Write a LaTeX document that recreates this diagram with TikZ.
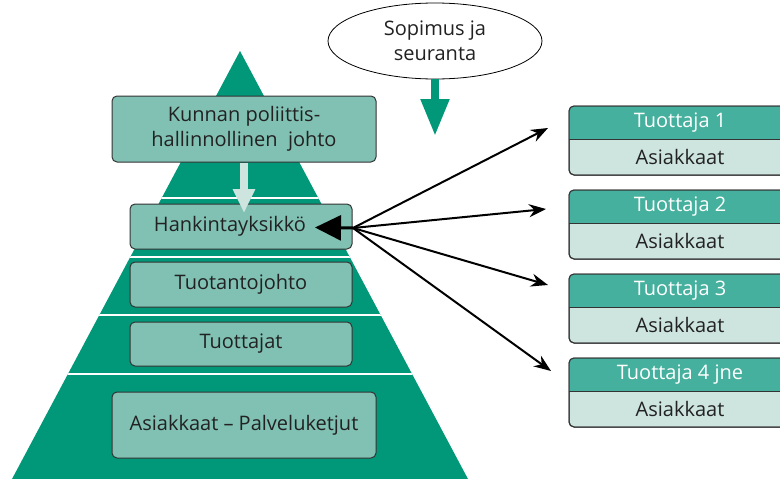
\documentclass[tikz,border=0pt]{standalone}
\usepackage{fontspec}
\setmainfont{Open Sans}
\usetikzlibrary{arrows.meta,shapes.geometric}
\definecolor{pyr}{HTML}{009879}
\definecolor{boxc}{HTML}{80C1B3}
\definecolor{hdrc}{HTML}{45B09D}
\definecolor{lite}{HTML}{CDE4DF}
\definecolor{edge}{HTML}{333333}
\definecolor{txt}{HTML}{222222}
\tikzset{
  pbox/.style={draw=edge, line width=1pt, fill=boxc, rounded corners=5pt, text=txt, font=\fontsize{20}{25}\selectfont, align=center},
  lbl/.style={font=\fontsize{20}{25}\selectfont, inner sep=0pt},
  thin/.style={line width=2pt, draw=black, -{Stealth[length=17pt,width=13pt]}},
}
\begin{document}
\begin{tikzpicture}[x=1pt,y=-1pt]
\path[use as bounding box, clip] (0,0) rectangle (780,479);
% pyramid
\begin{scope}
\clip (240,51) -- (12,479) -- (468,479) -- cycle;
\fill[pyr] (0,0) rectangle (780,479);
\foreach \yy in {198,257,315,374} \draw[white, line width=2.5pt] (0,\yy) -- (500,\yy);
\end{scope}
% pyramid boxes
\node[pbox, minimum width=264pt, minimum height=66pt] (kunta) at (244,129) {Kunnan poliittis-\\hallinnollinen\ \ johto};
\node[pbox, minimum width=222pt, minimum height=45pt] (hank) at (241,226.5) {Hankintayksikkö\hspace{22pt}};
\node[pbox, minimum width=222pt, minimum height=45pt] (tjohto) at (241,284.5) {Tuotantojohto};
\node[pbox, minimum width=222pt, minimum height=44pt] (tuott) at (241,344) {Tuottajat};
\node[pbox, minimum width=264pt, minimum height=66pt] (asiak) at (244,425) {Asiakkaat -- Palveluketjut};
% light arrow
\draw[lite, line width=8pt, -{Triangle[length=24pt,width=21pt]}] (kunta.south) -- (244,213);
% ellipse
\node[ellipse, draw=black, line width=0.8pt, fill=white, minimum width=214pt, minimum height=76pt, inner sep=0pt, align=center, text=txt, font=\fontsize{20}{25}\selectfont] (sop) at (435,41) {Sopimus ja\\seuranta};
\coordinate (gtip) at (435,136);
\draw[pyr, line width=8pt, -{Triangle[length=37pt,width=27pt]}] (sop.south) -- (gtip);
% right boxes
\foreach \n/\top/\lab in {1/106/Tuottaja 1, 2/190/Tuottaja 2, 3/274/Tuottaja 3, 4/358/Tuottaja 4 jne}{
  \pgfmathsetmacro{\mid}{\top+33}
  \pgfmathsetmacro{\bot}{\top+69}
  \draw[draw=edge, line width=1pt, fill=lite, rounded corners=5pt] (569,\top) rectangle (792,\bot);
  \path[fill=hdrc] (569,\mid) [rounded corners=5pt] -- (569,\top) -- (792,\top) [sharp corners] -- (792,\mid) -- cycle;
  \draw[draw=edge, line width=1pt, rounded corners=5pt] (569,\top) rectangle (792,\bot);
  \draw[draw=edge, line width=1pt] (569,\mid) -- (792,\mid);
  \node[lbl, text=white] (h\n) at (680,\top+17) {\lab};
  \node[lbl, text=txt] (b\n) at (680,\mid+18) {Asiakkaat};
}
% arrows
\coordinate (hub) at (353,228);
\coordinate (a1) at (548,128);
\coordinate (a2) at (546,209);
\coordinate (a3) at (548,285);
\coordinate (a4) at (551,371);
\coordinate (htip) at (315,227.5);
\draw[thin] (hub) -- (a1);
\draw[thin] (hub) -- (a2);
\draw[thin] (hub) -- (a3);
\draw[thin] (hub) -- (a4);
\draw[line width=3pt, -{Triangle[length=26pt,width=25pt]}] (hub) -- (htip);
\end{tikzpicture}
\end{document}
